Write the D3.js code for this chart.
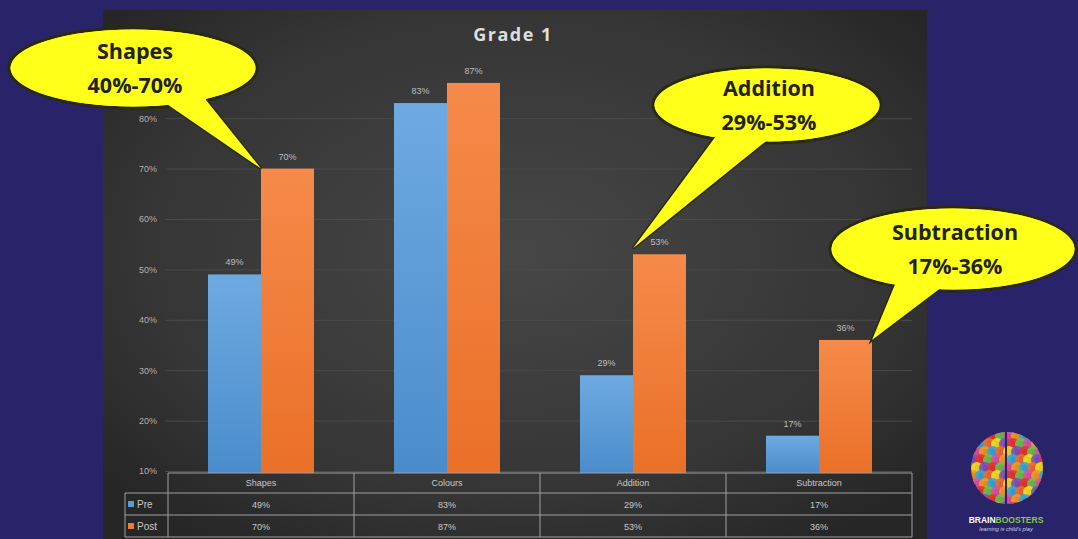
<!DOCTYPE html>
<html>
<head>
<meta charset="utf-8">
<script src="https://cdn.jsdelivr.net/npm/d3@7"></script>
<style>
  html, body { margin: 0; padding: 0; background: #29246a; }
  svg { display: block; }
</style>
</head>
<body>
<svg id="chart" width="1078" height="539"></svg>
<script>
// Data
const categories = ["Shapes", "Colours", "Addition", "Subtraction"];
const seriesNames = ["Pre", "Post"];
const preValues = [49, 83, 29, 17];
const postValues = [70, 87, 53, 36];
const yTicks = [10, 20, 30, 40, 50, 60, 70, 80];
const callouts = [
  { title: "Shapes", range: "40%-70%", cat: "Shapes" },
  { title: "Addition", range: "29%-53%", cat: "Addition" },
  { title: "Subtraction", range: "17%-36%", cat: "Subtraction" }
];

const COLORS = { Pre: "#5b9bd5", Post: "#ed7d31" };

const svg = d3.select("#chart");
const defs = svg.append("defs");

// panel background gradient
const pg = defs.append("radialGradient").attr("id", "panelGrad")
  .attr("cx", "50%").attr("cy", "45%").attr("r", "65%");
pg.append("stop").attr("offset", "0%").attr("stop-color", "#474747");
pg.append("stop").attr("offset", "70%").attr("stop-color", "#353535");
pg.append("stop").attr("offset", "100%").attr("stop-color", "#262626");

// bar gradients
[["Pre", "#6eaae2", "#4a8ccb"], ["Post", "#f58a4a", "#ea7028"]].forEach(([k, a, b]) => {
  const lg = defs.append("linearGradient").attr("id", "grad" + k)
    .attr("x1", 0).attr("y1", 0).attr("x2", 0).attr("y2", 1);
  lg.append("stop").attr("offset", "0%").attr("stop-color", a);
  lg.append("stop").attr("offset", "100%").attr("stop-color", b);
});

// chart panel
svg.append("rect")
  .attr("x", 103).attr("y", 10).attr("width", 824).attr("height", 540)
  .attr("fill", "url(#panelGrad)");

// scales
const x0 = d3.scaleBand().domain(categories).range([168, 912]);
const groupW = 106;
const x1 = d3.scaleBand().domain(seriesNames).range([0, groupW]);
const y = d3.scaleLinear().domain([10, 90]).range([471, 67.8]);
const groupX = c => x0(c) + (x0.bandwidth() - groupW) / 2;

// title
svg.append("text")
  .attr("x", 513).attr("y", 41)
  .attr("text-anchor", "middle")
  .attr("font-family", "Open Sans, sans-serif")
  .attr("font-weight", 700)
  .attr("font-size", 18)
  .attr("letter-spacing", 1.5)
  .attr("fill", "#dedede")
  .text("Grade  1");

// gridlines + y labels
const yAxis = svg.append("g").attr("transform", "translate(165,0)")
  .call(d3.axisLeft(y).tickValues(yTicks).tickSize(-747).tickFormat(d => d + "%"));
yAxis.select(".domain").remove();
yAxis.selectAll(".tick line").attr("stroke", "#4b4b4b").attr("stroke-width", 1);
yAxis.selectAll(".tick text")
  .attr("x", -8)
  .attr("fill", "#b0b0b0")
  .attr("font-family", "Liberation Sans Narrow, Liberation Sans, sans-serif")
  .attr("font-size", 9);

// bars
const rows = categories.map((c, i) => ({ cat: c, Pre: preValues[i], Post: postValues[i] }));
const groups = svg.append("g").selectAll("g").data(rows).join("g")
  .attr("transform", d => `translate(${groupX(d.cat)},0)`);

groups.selectAll("rect")
  .data(d => seriesNames.map(s => ({ s, v: d[s] })))
  .join("rect")
  .attr("x", d => x1(d.s))
  .attr("width", x1.bandwidth())
  .attr("y", d => y(d.v))
  .attr("height", d => y(10) - y(d.v) + 2)
  .attr("fill", d => `url(#grad${d.s})`);

groups.selectAll("text.lbl")
  .data(d => seriesNames.map(s => ({ s, v: d[s] })))
  .join("text")
  .attr("class", "lbl")
  .attr("x", d => x1(d.s) + x1.bandwidth() / 2)
  .attr("y", d => y(d.v) - 9)
  .attr("text-anchor", "middle")
  .attr("fill", "#bdbdbd")
  .attr("font-family", "Liberation Sans Narrow, Liberation Sans, sans-serif")
  .attr("font-size", 9)
  .text(d => d.v + "%");

// data table
const tTop = 473, rowH = [20, 22, 22];
const rowY = [tTop, tTop + rowH[0], tTop + rowH[0] + rowH[1], tTop + rowH[0] + rowH[1] + rowH[2]];
const legendX = 125, tLeft = x0.range()[0], tRight = x0.range()[1];
const table = svg.append("g").attr("stroke", "#a0a0a0").attr("stroke-width", 1).attr("fill", "none");
table.append("line").attr("x1", tLeft).attr("x2", tRight).attr("y1", rowY[0]).attr("y2", rowY[0]);
[1, 2, 3].forEach(i => table.append("line")
  .attr("x1", legendX).attr("x2", tRight).attr("y1", rowY[i]).attr("y2", rowY[i]));
table.append("line").attr("x1", legendX).attr("x2", legendX).attr("y1", rowY[1]).attr("y2", rowY[3]);
categories.concat([null]).forEach((c, i) => {
  const xx = c ? x0(c) : tRight;
  table.append("line").attr("x1", xx).attr("x2", xx).attr("y1", rowY[0]).attr("y2", rowY[3]);
});

const tText = svg.append("g")
  .attr("fill", "#c8c8c8")
  .attr("font-family", "Liberation Sans Narrow, Liberation Sans, sans-serif")
  .attr("font-size", 9)
  .attr("text-anchor", "middle");
categories.forEach((c, i) => {
  const cx = x0(c) + x0.bandwidth() / 2;
  tText.append("text").attr("x", cx).attr("y", rowY[0] + 13).text(c);
  tText.append("text").attr("x", cx).attr("y", rowY[1] + 15).text(preValues[i] + "%");
  tText.append("text").attr("x", cx).attr("y", rowY[2] + 15).text(postValues[i] + "%");
});
seriesNames.forEach((s, i) => {
  const yy = rowY[i + 1] + rowH[i + 1] / 2;
  svg.append("rect").attr("x", legendX + 3).attr("y", yy - 3).attr("width", 6).attr("height", 6)
    .attr("fill", COLORS[s]);
  svg.append("text").attr("x", legendX + 12).attr("y", yy + 3.5)
    .attr("fill", "#c8c8c8")
    .attr("font-family", "Liberation Sans Narrow, Liberation Sans, sans-serif")
    .attr("font-size", 10)
    .text(s);
});

// callouts (ellipse geometry is layout; tip points at the Post bar top)
const calloutLayout = {
  Shapes:      { cx: 133, cy: 68,  rx: 124, ry: 40, base: [[158, 98], [206, 100]] },
  Addition:    { cx: 767, cy: 105, rx: 114, ry: 38, base: [[716, 136], [770, 138]] },
  Subtraction: { cx: 953, cy: 249, rx: 123, ry: 42, base: [[896, 282], [946, 284]] }
};
const cg = svg.append("g");
const shapes = callouts.map(c => {
  const L = calloutLayout[c.cat];
  const i = categories.indexOf(c.cat);
  const tip = [groupX(c.cat) + x1("Post"), y(postValues[i])];
  if (c.cat === "Addition") tip[1] -= 6;
  if (c.cat === "Subtraction") tip[0] += x1.bandwidth();
  return { ...c, L, tip };
});
// outline layer
shapes.forEach(d => {
  cg.append("ellipse").attr("cx", d.L.cx).attr("cy", d.L.cy).attr("rx", d.L.rx).attr("ry", d.L.ry)
    .attr("fill", "#ffff1a").attr("stroke", "#2a2a10").attr("stroke-width", 3);
  cg.append("path").attr("d", d3.line()([d.L.base[0], d.tip, d.L.base[1]]))
    .attr("fill", "#ffff1a").attr("stroke", "#2a2a10").attr("stroke-width", 3).attr("stroke-linejoin", "miter");
});
// fill layer
shapes.forEach(d => {
  cg.append("ellipse").attr("cx", d.L.cx).attr("cy", d.L.cy).attr("rx", d.L.rx - 1.5).attr("ry", d.L.ry - 1.5)
    .attr("fill", "#ffff1a");
  const b0 = [d.L.base[0][0], d.L.base[0][1] - 8], b1 = [d.L.base[1][0], d.L.base[1][1] - 8];
  cg.append("path").attr("d", d3.line()([b0, d.L.base[0], d.tip, d.L.base[1], b1]) + "Z")
    .attr("fill", "#ffff1a");
  [d.title, d.range].forEach((t, k) => {
    cg.append("text")
      .attr("x", d.L.cx + 2).attr("y", d.L.cy - 9 + k * 34)
      .attr("text-anchor", "middle")
      .attr("font-family", "Open Sans, sans-serif")
      .attr("font-weight", 700)
      .attr("font-size", 21.5)
      .attr("fill", "#222")
      .text(t);
  });
});

// logo
const logo = svg.append("g");
const lcx = 1007, lcy = 468;
defs.append("clipPath").attr("id", "brainClip")
  .append("ellipse").attr("cx", lcx).attr("cy", lcy).attr("rx", 36).attr("ry", 36);
const brainColors = ["#e8322e", "#f39a1e", "#f5e11b", "#6cc04a", "#2fa6de", "#7a4fc4", "#e04fa0", "#f06a2b"];
const bg = logo.append("g").attr("clip-path", "url(#brainClip)");
let k = 0;
for (let yy = lcy - 40; yy <= lcy + 40; yy += 8) {
  for (let xx = lcx - 40; xx <= lcx + 40; xx += 8) {
    bg.append("circle").attr("cx", xx + ((yy / 8) % 2) * 4).attr("cy", yy).attr("r", 6)
      .attr("fill", brainColors[(k * 3 + Math.floor(yy / 8)) % brainColors.length]).attr("opacity", 0.9);
    k++;
  }
}
logo.append("line").attr("x1", lcx - 1).attr("x2", lcx - 1).attr("y1", lcy - 36).attr("y2", lcy + 36)
  .attr("stroke", "#29246a").attr("stroke-width", 2);
const lt = logo.append("text").attr("x", 1006).attr("y", 523).attr("text-anchor", "middle")
  .attr("font-family", "Liberation Sans, sans-serif").attr("font-weight", 700).attr("font-size", 8.5);
lt.append("tspan").attr("fill", "#ffffff").text("BRAIN");
lt.append("tspan").attr("fill", "#8cc63f").text("BOOSTERS");
logo.append("text").attr("x", 1006).attr("y", 531).attr("text-anchor", "middle")
  .attr("font-family", "Liberation Sans, sans-serif").attr("font-style", "italic").attr("font-size", 5.5)
  .attr("fill", "#cfcfe8").text("learning is child's play");
</script>
</body>
</html>
